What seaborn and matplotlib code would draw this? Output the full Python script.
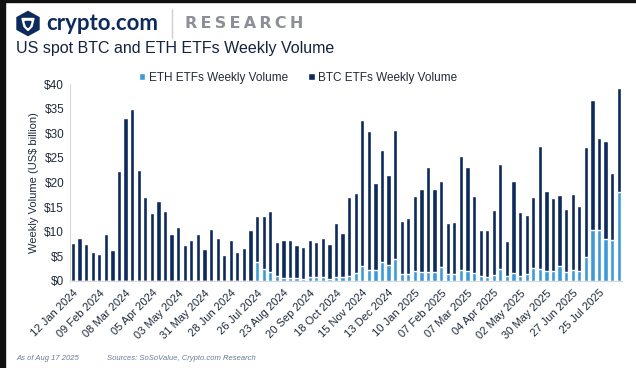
import matplotlib
matplotlib.use("Agg")
import matplotlib.pyplot as plt
import seaborn as sns
import pandas as pd
import numpy as np
from matplotlib.patches import Polygon, Rectangle

# ---------------- data ----------------
weeks_start = "2024-01-12"
n_weeks = 84
btc = [7.7, 8.7, 7.6, 5.8, 5.4, 9.5, 6.3, 22.4, 33.1, 35.0,
       22.5, 17.0, 13.9, 16.2, 14.2, 9.5, 11.0, 7.4, 8.3, 9.5,
       6.4, 10.6, 8.7, 5.3, 8.3, 5.9, 6.7, 10.4, 9.2, 10.8,
       12.4, 6.9, 7.6, 7.7, 6.7, 6.6, 7.4, 7.0, 7.8, 7.0,
       10.8, 8.9, 15.9, 16.2, 29.6, 28.1, 17.7, 22.8, 18.3, 26.1,
       10.8, 11.3, 15.3, 16.8, 21.3, 16.8, 17.5, 10.4, 10.6, 23.2,
       21.1, 15.6, 9.4, 9.5, 13.2, 21.3, 7.1, 18.7, 13.0, 12.0,
       14.4, 25.0, 16.2, 14.8, 14.5, 12.8, 15.5, 13.2, 22.4, 26.3,
       18.6, 19.9, 13.6, 21.1]
eth = [0.0] * 28 + [3.9, 2.4,
       1.8, 1.0, 0.7, 0.6, 0.6, 0.4, 0.9, 0.9, 0.9, 0.5,
       0.9, 0.9, 1.1, 1.7, 3.0, 2.3, 2.2, 3.8, 3.2, 4.5,
       1.4, 1.4, 2.0, 1.8, 1.8, 1.8, 2.9, 1.4, 1.4, 2.2,
       2.0, 1.7, 1.0, 0.9, 1.2, 2.4, 1.0, 1.7, 1.1, 1.4,
       2.6, 2.4, 2.0, 2.0, 3.0, 1.9, 2.2, 2.0, 4.9, 10.4,
       10.4, 8.5, 8.4, 18.1]
y_ticks = [0, 5, 10, 15, 20, 25, 30, 35, 40]
y_tick_labels = ["$0", "$5", "$10", "$15", "$20", "$25", "$30", "$35", "$40"]
tick_every = 4

dates = pd.date_range(weeks_start, periods=n_weeks, freq="7D")
df = pd.DataFrame({"week": dates.strftime("%d %b %Y"), "btc": btc, "eth": eth})
df["total"] = df["btc"] + df["eth"]

BTC_C = "#0c2a5b"
ETH_C = "#3d9ad8"
TXT = "#1f2a3a"

W, H = 636, 368
fig = plt.figure(figsize=(W / 100, H / 100), dpi=100)
sns.set_style("white")
plt.rcParams["font.family"] = ["Liberation Sans", "DejaVu Sans"]

def fx(px):
    return px / W

def fy(py):
    return 1 - py / H

ax = fig.add_axes([fx(69.7), fy(281), fx(622) - fx(69.7), fy(84) - fy(281)])

sns.barplot(data=df, x="week", y="total", color=BTC_C, width=0.65,
            saturation=1, ax=ax, label="BTC ETFs Weekly Volume")
sns.barplot(data=df, x="week", y="eth", color=ETH_C, width=0.65,
            saturation=1, ax=ax, label="ETH ETFs Weekly Volume")
handles, labels = ax.get_legend_handles_labels()
if ax.get_legend() is not None:
    ax.get_legend().remove()

ax.set_xlim(-0.5, n_weeks - 0.5)
ax.set_ylim(0, 40)
ax.set_yticks(y_ticks)
ax.set_yticklabels(y_tick_labels, fontsize=8.5, color=TXT)
xt = list(range(0, n_weeks, tick_every))
ax.set_xticks(xt)
ax.set_xticklabels([df["week"][i] for i in xt], rotation=45, ha="right",
                   rotation_mode="anchor", fontsize=8, color=TXT)
ax.set_xlabel("")
ax.set_ylabel("Weekly Volume (US$ billion)", fontsize=8, color=TXT, labelpad=4)
for s in ["top", "right"]:
    ax.spines[s].set_visible(False)
ax.spines["left"].set_color("#d9d9d9")
ax.spines["bottom"].set_color("#d9d9d9")
ax.tick_params(axis="y", length=0, pad=4)
ax.tick_params(axis="x", length=3, color="#d0d0d0", pad=2)

# legend
order = [labels.index("ETH ETFs Weekly Volume"), labels.index("BTC ETFs Weekly Volume")]
leg = fig.legend([handles[i] for i in order], [labels[i] for i in order],
                 loc="center", bbox_to_anchor=(fx(298), fy(78)), ncol=2,
                 frameon=False, fontsize=8.5, handlelength=0.55, handleheight=0.55,
                 handletextpad=0.3, columnspacing=1.75, borderpad=0)
for t in leg.get_texts():
    t.set_color(TXT)

# header
fig.patches.append(Rectangle((0, 0), fx(5), 1, transform=fig.transFigure,
                             color="#111111", zorder=10))
fig.patches.append(Rectangle((0, fy(2)), 1, fy(0) - fy(2), transform=fig.transFigure,
                             color="#111111", zorder=10))
cx, cy = 28, 23.5
hexv = [(cx, cy - 12), (cx + 11, cy - 6), (cx + 11, cy + 6), (cx, cy + 12),
        (cx - 11, cy + 6), (cx - 11, cy - 6)]
fig.patches.append(Polygon([(fx(a), fy(b)) for a, b in hexv], closed=True,
                           transform=fig.transFigure, color="#0c2a5b", zorder=5))
inner = [(cx - 6, cy - 5), (cx + 6, cy - 5), (cx + 4, cy + 3), (cx, cy + 7), (cx - 4, cy + 3)]
fig.patches.append(Polygon([(fx(a), fy(b)) for a, b in inner], closed=True,
                           transform=fig.transFigure, color="white", zorder=6))
inner2 = [(cx - 3, cy - 2), (cx + 3, cy - 2), (cx + 1.5, cy + 2.5), (cx, cy + 4), (cx - 1.5, cy + 2.5)]
fig.patches.append(Polygon([(fx(a), fy(b)) for a, b in inner2], closed=True,
                           transform=fig.transFigure, color="#0c2a5b", zorder=7))

fig.text(fx(46), fy(23.5), "crypto.com", fontsize=16, fontweight="bold",
         color="#0c2a5b", va="center", ha="left", family=["Lato", "DejaVu Sans"])
fig.lines.append(plt.Line2D([fx(172), fx(172)], [fy(9), fy(38)], transform=fig.transFigure,
                            color="#cfcfcf", lw=1))
fig.text(fx(185), fy(24), "R E S E A R C H".replace(" ", "\u2009"), fontsize=11.5,
         fontweight="bold", color="#8c9096", va="center", ha="left",
         family=["DejaVu Sans"])
fig.text(fx(16), fy(48), "US spot BTC and ETH ETFs Weekly Volume", fontsize=11.5,
         color="#13233f", va="center", ha="left")

fig.text(fx(16), fy(359), "As of Aug 17 2025", fontsize=5.5, style="italic",
         color="#6b7a99", va="center", ha="left")
fig.text(fx(107), fy(359), "Sources: SoSoValue, Crypto.com Research", fontsize=5.5,
         style="italic", color="#6b7a99", va="center", ha="left")

fig.savefig("out.png", dpi=100, facecolor="white")
